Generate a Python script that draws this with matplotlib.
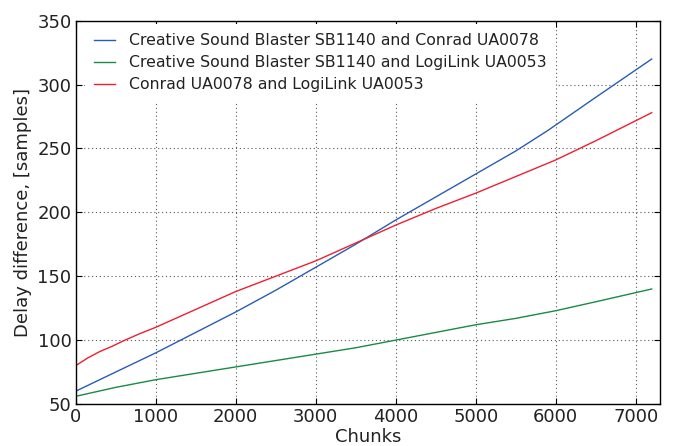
import matplotlib
matplotlib.use("Agg")
import matplotlib.pyplot as plt

# Data
blue_x = [0, 500, 1000, 1500, 2000, 2500, 3000, 3500, 4000, 4500, 5000, 5500, 5900, 6500, 7200]
blue_y = [60, 75, 90, 106, 122, 139, 157, 175, 194, 212, 230, 248, 264, 290, 320]

green_x = [0, 500, 1000, 1500, 2000, 2500, 3000, 3500, 4000, 4500, 5000, 5500, 6000, 6500, 7200]
green_y = [56, 63, 69, 74, 79, 84, 89, 94, 100, 106, 112, 117, 123, 130, 140]

red_x = [0, 150, 300, 450, 617, 800, 1000, 1500, 2000, 2500, 3000, 3500, 4000, 4500, 5000, 5500, 6000, 6500, 7200]
red_y = [80, 86, 91, 95, 100, 105, 110, 124, 138, 150, 162, 176, 190, 203, 215, 228, 241, 256, 278]

labels = ["Creative Sound Blaster SB1140 and Conrad UA0078",
          "Creative Sound Blaster SB1140 and LogiLink UA0053",
          "Conrad UA0078 and LogiLink UA0053"]
colors = ["#2a5cb4", "#1a8a48", "#ec2030"]
text_color = "#222222"

fig = plt.figure(figsize=(6.74, 4.46), dpi=100)
ax = fig.add_axes([0.1123, 0.0942, 0.9788 - 0.1123, 0.9536 - 0.0942])

ax.plot(blue_x, blue_y, color=colors[0], lw=1.0, label=labels[0])
ax.plot(green_x, green_y, color=colors[1], lw=1.0, label=labels[1])
ax.plot(red_x, red_y, color=colors[2], lw=1.0, label=labels[2])

ax.set_xlim(0, 7300)
ax.set_ylim(50, 350)
ax.set_xticks([0, 1000, 2000, 3000, 4000, 5000, 6000, 7000])
ax.set_yticks([50, 100, 150, 200, 250, 300, 350])
ax.tick_params(direction="in", top=True, right=True, labelsize=13, length=4, pad=3,
               labelcolor=text_color)
ax.grid(True, color="0.35", linestyle=(0, (1, 2.5)), linewidth=0.8)
for s in ax.spines.values():
    s.set_color("black")
    s.set_linewidth(1.0)
    s.set_zorder(5)

ax.set_xlabel("Chunks", fontsize=13, labelpad=1, color=text_color)
ax.set_ylabel("Delay difference, [samples]", fontsize=13, labelpad=4, color=text_color)

leg = ax.legend(loc="upper left", bbox_to_anchor=(0.0152, 0.992), frameon=True,
                fancybox=False, fontsize=11.3, handlelength=1.35, labelspacing=0.45,
                borderaxespad=0.0, borderpad=0.6, handletextpad=0.9)
leg.get_frame().set_facecolor("white")
leg.get_frame().set_edgecolor("none")
leg.get_frame().set_alpha(1.0)
for t in leg.get_texts():
    t.set_color(text_color)

fig.savefig("out.png", dpi=100)
